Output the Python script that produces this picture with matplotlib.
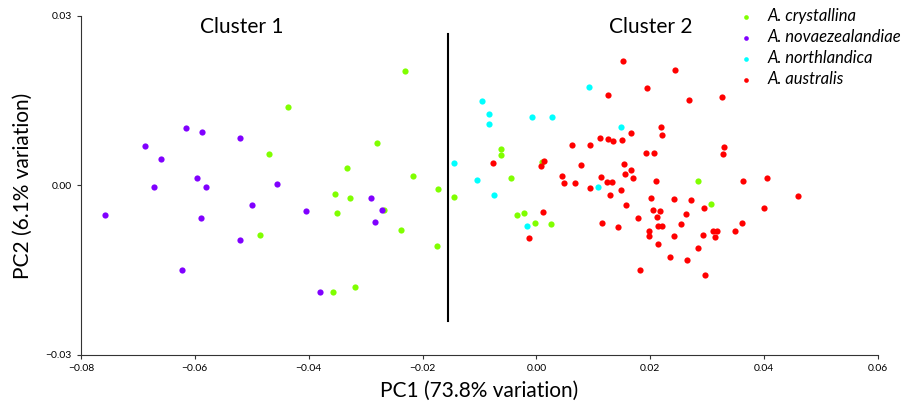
import matplotlib
matplotlib.use('Agg')
import matplotlib.pyplot as plt

plt.rcParams['font.family'] = ['Lato', 'DejaVu Sans']

# PCA scores per species (PC1, PC2)
cry_pc1 = [-0.0436, -0.0470, -0.0280, -0.0333, -0.0354, -0.0328, -0.0351, -0.0486, -0.0357,
           -0.0318, -0.0231, -0.0217, -0.0268, -0.0237, -0.0173, -0.0175, -0.0145, -0.0062,
           -0.0062, -0.0045, -0.0034, -0.0022, -0.0002, 0.0009, 0.0026, 0.0283, 0.0306]
cry_pc2 = [0.0139, 0.0056, 0.0075, 0.0031, -0.0015, -0.0022, -0.0048, -0.0088, -0.0189,
           -0.0179, 0.0203, 0.0016, -0.0043, -0.0078, -0.0007, -0.0107, -0.0021, 0.0065,
           0.0054, 0.0014, -0.0053, -0.0048, -0.0067, 0.0041, -0.0069, 0.0008, -0.0032]

nov_pc1 = [-0.0758, -0.0687, -0.0660, -0.0671, -0.0616, -0.0588, -0.0596, -0.0581, -0.0589,
           -0.0622, -0.0520, -0.0521, -0.0499, -0.0456, -0.0405, -0.0380, -0.0291, -0.0284,
           -0.0271]
nov_pc2 = [-0.0052, 0.0070, 0.0047, -0.0002, 0.0102, 0.0095, 0.0014, -0.0003, -0.0057,
           -0.0150, 0.0084, -0.0096, -0.0034, 0.0003, -0.0046, -0.0189, -0.0022, -0.0065,
           -0.0044]

nor_pc1 = [-0.0145, -0.0095, -0.0084, -0.0084, -0.0008, 0.0027, 0.0092, -0.0105, -0.0074,
           -0.0017, 0.0109, 0.0149]
nor_pc2 = [0.0039, 0.0149, 0.0127, 0.0109, 0.0122, 0.0122, 0.0175, 0.0009, -0.0016,
           -0.0072, -0.0003, 0.0103]

aus_pc1 = [-0.0076, 0.0014, 0.0008, 0.0011, -0.0013, 0.0152, 0.0244, 0.0125, 0.0194, 0.0268,
           0.0326, 0.0062, 0.0095, 0.0111, 0.0126, 0.0135, 0.0151, 0.0166, 0.0218, 0.0220,
           0.0192, 0.0207, 0.0329, 0.0327, 0.0078, 0.0154, 0.0166, 0.0156, 0.0170, 0.0045,
           0.0048, 0.0068, 0.0114, 0.0124, 0.0133, 0.0210, 0.0363, 0.0405, 0.0094, 0.0130,
           0.0149, 0.0460, 0.0201, 0.0242, 0.0272, 0.0294, 0.0400, 0.0157, 0.0204, 0.0217,
           0.0212, 0.0262, 0.0362, 0.0115, 0.0179, 0.0143, 0.0254, 0.0214, 0.0221, 0.0197,
           0.0197, 0.0241, 0.0293, 0.0311, 0.0318, 0.0313, 0.0349, 0.0214, 0.0284, 0.0235,
           0.0265, 0.0182, 0.0297]
aus_pc2 = [0.0039, 0.0043, 0.0034, -0.0047, -0.0093, 0.0221, 0.0204, 0.0161, 0.0172, 0.0152,
           0.0156, 0.0071, 0.0072, 0.0084, 0.0083, 0.0079, 0.0081, 0.0093, 0.0103, 0.0089,
           0.0058, 0.0057, 0.0068, 0.0055, 0.0037, 0.0038, 0.0027, 0.0021, 0.0014, 0.0016,
           0.0005, 0.0005, 0.0015, 0.0007, 0.0007, 0.0008, 0.0008, 0.0013, -0.0005, -0.0016,
           -0.0008, -0.0018, -0.0023, -0.0024, -0.0026, -0.0040, -0.0040, -0.0034, -0.0043,
           -0.0045, -0.0055, -0.0050, -0.0066, -0.0066, -0.0058, -0.0074, -0.0068, -0.0071,
           -0.0071, -0.0081, -0.0090, -0.0090, -0.0088, -0.0081, -0.0080, -0.0092, -0.0081,
           -0.0103, -0.0111, -0.0127, -0.0132, -0.0149, -0.0158]

species = ['A. crystallina', 'A. novaezealandiae', 'A. northlandica', 'A. australis']
colors = ['#80ff00', '#8000ff', '#00ffff', '#ff0000']

# divider between the two clusters
split_x = -0.0155
split_y = (-0.0239, 0.0269)

fig = plt.figure(figsize=(9.12, 4.07), dpi=100)
ax = fig.add_axes([0.0888, 0.1278, 0.8739, 0.8329])

data = [(cry_pc1, cry_pc2), (nov_pc1, nov_pc2), (nor_pc1, nor_pc2), (aus_pc1, aus_pc2)]
for (px, py), lab, c in zip(data, species, colors):
    ax.scatter(px, py, s=20, color=c, label=lab, linewidths=0, zorder=3)

ax.plot([split_x, split_x], split_y, color='black', lw=1.5)
ax.text(-0.0517, 0.028, 'Cluster 1', fontsize=15, ha='center', va='center')
ax.text(0.020, 0.028, 'Cluster 2', fontsize=15, ha='center', va='center')

ax.set_xlim(-0.08, 0.06)
ax.set_ylim(-0.03, 0.03)
ax.set_xticks([-0.08, -0.06, -0.04, -0.02, 0.0, 0.02, 0.04, 0.06])
ax.set_xticklabels(['\u22120.08', '\u22120.06', '\u22120.04', '\u22120.02', '0.00', '0.02', '0.04', '0.06'])
ax.set_yticks([-0.03, 0.0, 0.03])
ax.set_yticklabels(['\u22120.03', '0.00', '0.03'])
ax.tick_params(labelsize=7.5, length=3, width=0.8, colors='#333333')
for t in ax.get_xticklabels() + ax.get_yticklabels():
    t.set_color('black')

ax.spines['top'].set_visible(False)
ax.spines['right'].set_visible(False)
ax.spines['left'].set_color('#333333')
ax.spines['bottom'].set_color('#333333')

ax.set_xlabel('PC1 (73.8% variation)', fontsize=15, labelpad=6)
ax.set_ylabel('PC2 (6.1% variation)', fontsize=15, labelpad=9)

leg = fig.legend(loc='upper left', bbox_to_anchor=(0.783, 1.017), frameon=False,
                 prop={'style': 'italic', 'size': 12}, handletextpad=0.3,
                 labelspacing=0.3, markerscale=0.75)

plt.savefig('out.png', dpi=100)
